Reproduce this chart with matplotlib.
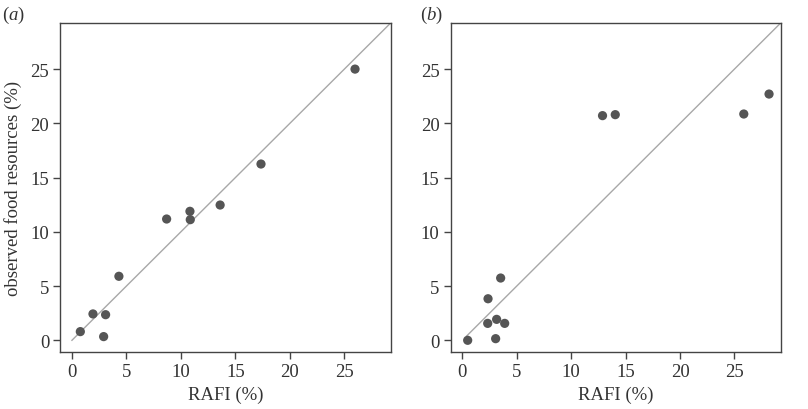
import matplotlib
matplotlib.use("Agg")
import matplotlib.pyplot as plt

# Panel (a)
rafi_a = [0.77, 1.93, 3.09, 2.91, 4.31, 8.69, 10.83, 10.86, 13.6, 17.35, 25.98]
obs_a = [0.8, 2.43, 2.36, 0.34, 5.9, 11.18, 11.89, 11.12, 12.47, 16.25, 25.0]
# Panel (b)
rafi_b = [0.49, 2.36, 2.33, 3.15, 3.89, 3.06, 3.52, 12.88, 14.05, 25.86, 28.18]
obs_b = [0.0, 3.83, 1.56, 1.93, 1.56, 0.15, 5.74, 20.71, 20.80, 20.86, 22.7]

ticks = [0, 5, 10, 15, 20, 25]
line_start = {"a": 0.0, "b": 0.4}

plt.rcParams['font.family'] = 'Liberation Serif'
plt.rcParams['mathtext.fontset'] = 'custom'
plt.rcParams['mathtext.it'] = 'Liberation Serif:italic'
plt.rcParams['mathtext.rm'] = 'Liberation Serif'

fig = plt.figure(figsize=(8.08, 4.10), dpi=100)
axa = fig.add_axes([0.0746, 0.139, 0.4093, 0.803])
axb = fig.add_axes([0.5578, 0.139, 0.4088, 0.803])

text_col = '#333333'
fs = 13.5
for ax, x, y, key in [(axa, rafi_a, obs_a, "a"), (axb, rafi_b, obs_b, "b")]:
    s0 = line_start[key]
    ax.plot([s0, 31], [s0, 31], color='#a8a8a8', lw=1.0, zorder=1)
    ax.scatter(x, y, s=44, color='#555555', edgecolors='none', zorder=3)
    ax.set_xlim(-1.07, 29.28)
    ax.set_ylim(-1.08, 29.27)
    ax.set_xticks(ticks)
    ax.set_yticks(ticks)
    ax.tick_params(direction='out', length=5, width=1, color='#444444',
                   labelsize=fs, labelcolor=text_col, pad=3)
    for sp in ax.spines.values():
        sp.set_color('#444444')
        sp.set_linewidth(1.0)
    ax.set_xlabel('RAFI (%)', fontsize=fs, color=text_col, labelpad=4)

axa.set_ylabel('observed food resources (%)', fontsize=fs, color=text_col, labelpad=6)

fig.text(0.003, 0.962, r'($\mathit{a}$)', fontsize=fs, color=text_col, va='center')
fig.text(0.520, 0.962, r'($\mathit{b}$)', fontsize=fs, color=text_col, va='center')

fig.savefig('out.png', dpi=100)
